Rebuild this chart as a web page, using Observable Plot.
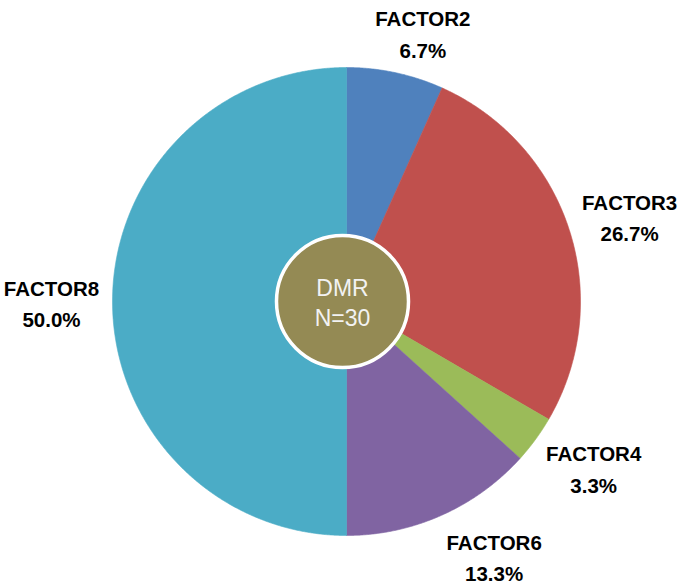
<!DOCTYPE html>
<html><head><meta charset="utf-8">
<script src="https://cdn.jsdelivr.net/npm/d3@7"></script>
<script src="https://cdn.jsdelivr.net/npm/@observablehq/plot@0.6"></script>
<style>html,body{margin:0;padding:0;background:#fff;overflow:hidden}</style>
</head><body><div id="chart"></div>
<script>
// ---- data ----
const categories = ["FACTOR2", "FACTOR3", "FACTOR4", "FACTOR6", "FACTOR8"];
const shares = [6.7, 26.7, 3.3, 13.3, 50.0];          // percent
const colors = ["#4F81BD", "#C0504D", "#9BBB59", "#8064A2", "#4BACC6"];
const centerLines = ["DMR", "N=30"];

// ---- layout / style ----
const W = 683, H = 587;
const R = 234;                 // pie radius in px (scale domain [-1,1] spans 2R)
const margin = {left: 112, right: 103, top: 67, bottom: 52};

const pie = d3.pie().sort(null).value(d => d.share).startAngle(0).endAngle(2 * Math.PI);
const slices = pie(categories.map((c, i) => ({category: c, share: shares[i], color: colors[i]})));

// polygon points for each slice (apex + sampled arc), computed from pie angles
const polyPts = [];
slices.forEach(s => {
  const a0 = s.startAngle, a1 = s.endAngle;
  const n = Math.max(2, Math.ceil((a1 - a0) / (Math.PI / 720)));
  polyPts.push({cat: s.data.category, color: s.data.color, x: 0, y: 0});
  for (let k = 0; k <= n; k++) {
    const a = a0 + (a1 - a0) * k / n;
    polyPts.push({cat: s.data.category, color: s.data.color, x: Math.sin(a), y: Math.cos(a)});
  }
  polyPts.push({cat: s.data.category, color: s.data.color, x: 0, y: 0});
});

// outside-end labels: anchored off the arc at the slice mid-angle
const clamp = v => Math.max(-1, Math.min(1, v));
const gap = 14 / R, hw = 47 / R, hh = 27 / R;
const labels = slices.map(s => {
  const a = (s.startAngle + s.endAngle) / 2;
  const sx = Math.sin(a), cy = Math.cos(a);
  return {
    text: `${s.data.category}\n${s.data.share.toFixed(1)}%`,
    x: sx * (1 + gap) + hw * clamp(2.5 * sx),
    y: cy * (1 + gap) + hh * clamp(1.2 * cy)
  };
});

const chart = Plot.plot({
  width: W, height: H,
  marginLeft: margin.left, marginRight: margin.right,
  marginTop: margin.top, marginBottom: margin.bottom,
  x: {domain: [-1, 1], axis: null},
  y: {domain: [-1, 1], axis: null},
  style: {background: "#fff", overflow: "visible"},
  marks: [
    Plot.line(polyPts, {x: "x", y: "y", z: "cat", fill: "color", stroke: "color", strokeWidth: 0.6, curve: "linear"}),
    Plot.dot([0], {x: () => 0, y: () => 0, r: 66, fill: "#948A54", stroke: "#FFFFFF", strokeWidth: 3.5, dx: -4}),
    Plot.text([centerLines.join("\n")], {x: () => 0, y: () => 0, text: d => d, dx: -4, fill: "#F2F2F2",
      fontSize: 23, fontFamily: "Liberation Sans, Arial, sans-serif", lineHeight: 1.3, lineAnchor: "middle"}),
    Plot.text(labels, {x: "x", y: "y", text: "text", fill: "#000", fontWeight: "bold",
      fontSize: 20.5, fontFamily: "Liberation Sans, Arial, sans-serif", lineHeight: 1.52, lineAnchor: "middle"})
  ]
});
document.getElementById("chart").appendChild(chart);
</script>
</body></html>
